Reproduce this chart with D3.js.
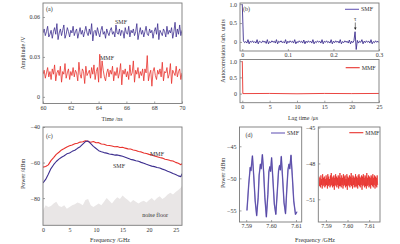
<!DOCTYPE html>
<html>
<head>
<meta charset="utf-8">
<script src="https://cdn.jsdelivr.net/npm/d3@7"></script>
<style>
  body { margin: 0; background: #fff; }
  svg { display: block; font-family: "Liberation Serif", "DejaVu Serif", serif; }
</style>
</head>
<body>
<div id="chart"></div>
<script>
// ---- (a) time series, amplitude in mV, sampled every 1/12 ns from 60 ns
const timeStart = 60, timeEnd = 70;
const smfAmpMv = [
  48,51,46,49,53,45,47,50,44,49,52,
  47,55,43,48,51,46,50,54,44,47,52,
  49,45,50,48,53,46,49,51,44,48,52,
  47,50,45,49,53,48,46,51,47,55,42,
  49,50,46,52,48,45,50,53,47,49,44,
  51,48,46,50,52,47,49,45,54,48,47,
  51,46,50,49,44,52,48,47,53,45,50,
  48,51,46,49,55,43,48,52,47,50,45,
  49,53,47,46,51,48,50,44,49,52,47,
  55,43,50,48,46,51,49,45,53,47,50,
  48,52,44,49,56,45,51,47,54,46,50
];
const mmfAmpMv = [
  17,20,14,18,22,15,19,13,21,17,24,
  12,18,20,16,23,11,19,17,25,14,18,
  21,13,19,16,22,15,20,18,12,26,17,
  14,21,19,10,23,16,18,20,14,22,17,
  24,13,19,22,11,32,14,27,20,15,12,
  18,21,15,20,17,23,12,19,16,22,14,
  18,25,9,20,17,21,15,19,13,24,16,
  18,27,11,20,17,22,14,19,16,21,12,
  21,18,31,12,17,20,8,19,22,16,13,
  20,17,21,15,26,12,19,18,22,14,17,
  25,10,20,18,16,23,15,19,21,13,18
];

// ---- (b) autocorrelation
const acfSmfLagStep = 0.0025; // us
const acfSmfValue = [
  1.0,
  0.03,-0.02,0.01,-0.03,0.06,-0.05,0.02,-0.01,0.03,-0.02,
  0.01,-0.03,0.06,-0.05,0.02,0.00,-0.02,0.03,-0.01,0.02,
  -0.04,0.06,-0.05,0.01,-0.02,0.03,-0.01,0.02,-0.03,0.06,
  -0.05,0.02,-0.01,0.03,-0.02,0.01,-0.03,0.06,-0.05,0.02,
  -0.02,0.03,-0.01,0.02,-0.03,0.06,-0.05,0.01,-0.02,0.03,
  -0.01,0.02,-0.03,0.05,-0.05,0.02,-0.02,0.03,-0.01,0.02,
  -0.03,0.06,-0.05,0.01,-0.02,0.03,-0.01,0.02,-0.03,0.06,
  -0.05,0.02,-0.01,0.03,-0.02,0.01,-0.03,0.06,-0.05,0.02,
  -0.02,0.03,-0.01,0.02,-0.03,0.06,-0.05,0.01,-0.02,0.03,
  -0.01,0.02,-0.03,0.05,-0.05,0.02,-0.02,0.03,0.27,-0.20,
  0.04,-0.03,0.02,-0.01,0.06,-0.05,0.02,-0.02,0.03,-0.01,
  0.02,-0.03,0.06,-0.05,0.01,-0.02,0.03,-0.01,0.02,-0.02
];
const tauLag = 0.248;
const acfMmfLag = [0, 0.1, 5, 10, 15, 20, 25];
const acfMmfValue = [1, 0, 0.005, -0.005, 0.005, 0, 0.005];

// ---- (c) power spectra
const specFreq = [0,0.5,1,1.5,2,2.5,3,3.5,4,4.5,5,5.5,6,6.5,7,7.5,8,8.5,9,9.5,10,10.5,11,11.5,12,12.5,
  13,13.5,14,14.5,15,15.5,16,16.5,17,17.5,18,18.5,19,19.5,20,20.5,21,21.5,22,22.5,23,23.5,24,24.5,25,25.5,26,26.2];
const specMmf = [-62.6,-62.2,-61.3,-58.9,-57.2,-55.4,-54.2,-52.9,-52.1,-51.2,-50.6,-50.1,-49.4,-49.1,-48.5,-48.3,
  -47.7,-48.1,-48.6,-48.2,-48.9,-48.8,-49.6,-49.7,-50.3,-50.4,-50.7,-51.1,-51.0,-51.5,-51.4,-51.9,-52.3,-52.4,
  -52.9,-53.2,-53.8,-54.0,-54.6,-54.9,-55.4,-55.7,-56.3,-56.7,-57.2,-57.5,-58.1,-58.4,-58.9,-59.1,-59.9,-60.4,-61.2,-60.6];
const specSmf = [-71.5,-69.5,-66.6,-63.4,-61.2,-59.4,-58.1,-57.0,-56.2,-55.1,-54.6,-53.7,-53.1,-52.0,-51.1,-49.6,
  -48.2,-47.9,-49.4,-50.9,-52.1,-53.3,-53.9,-54.4,-54.7,-55.2,-55.4,-55.8,-55.7,-56.1,-56.5,-57.0,-57.6,-58.2,
  -58.5,-59.0,-59.3,-59.9,-60.4,-61.0,-61.5,-62.0,-62.3,-62.8,-63.1,-63.7,-64.2,-64.9,-65.4,-66.2,-66.7,-67.5,-67.9,-66.3];
const specNoise = [-87,-84,-85,-84.5,-83,-82,-84.5,-85,-84,-86,-85,-84,-83.5,-82.5,-83,-84,-81,-80.5,-84,-85,
  -84,-83,-84,-82,-80,-81.5,-83,-81,-79.5,-80.5,-78.5,-80,-81,-82.5,-81,-82,-83,-82,-81.5,-82.5,
  -81,-80,-81.5,-80,-79,-80.5,-79.5,-78,-77,-78,-76.5,-75.5,-74,-73];

// ---- (d) zoomed spectra
const rippleSmfFreq = [7.5903,7.5910,7.5916,7.5919,7.5925,7.5930,7.5936,7.5942,7.5948,7.5952,7.5957,7.5960,
  7.5965,7.5970,7.5975,7.5981,7.5987,7.5991,7.5995,7.5998,7.6002,7.6007,7.6013,7.6019,7.6025,7.6030,7.6034,
  7.6037,7.6041,7.6046,7.6052,7.6058,7.6063,7.6068,7.6072,7.6075,7.6080,7.6085,7.6091,7.6098,7.6104];
const rippleSmfPower = [-55.0,-51.0,-48.3,-48.8,-46.5,-49.5,-53.5,-55.8,-53.0,-49.5,-47.8,-48.5,
  -46.3,-49.0,-53.0,-56.0,-52.5,-49.0,-48.2,-48.9,-46.8,-50.0,-54.0,-55.6,-52.0,-48.8,-48.0,
  -48.7,-46.6,-49.8,-53.8,-55.5,-51.8,-48.6,-47.8,-48.5,-46.4,-49.5,-53.5,-55.6,-55.2];
const rippleMmfStart = 7.5869, rippleMmfEnd = 7.6139;
const rippleMmfPower = [
  -49.1,-49.9,-49.2,-50.0,-49.0,-49.8,-49.3,-50.1,-48.9,-49.9,-49.2,-49.8,-49.1,-50.0,-49.3,-49.9,-49.0,
  -49.8,-49.2,-50.1,-48.9,-49.9,-49.1,-49.8,-49.3,-50.0,-49.0,-49.9,-48.8,-49.8,-49.2,-50.0,-49.1,-49.9,
  -49.0,-50.2,-49.2,-49.8,-48.9,-49.9,-49.1,-50.0,-49.2,-49.8,-49.0,-50.1,-49.1,-49.9,-48.8,-49.9,-49.2,
  -50.0,-49.0,-49.8,-49.2,-50.1,-48.9,-49.9,-49.1,-49.8,-49.0,-50.0,-49.3,-49.9,-48.9,-50.2,-49.1,-49.8,
  -49.2,-49.9,-49.0,-50.0,-49.1,-49.8,-48.8,-49.9,-49.2,-50.1,-49.0,-49.8,-49.1,-50.0,-49.2,-49.9,-48.9,
  -50.0,-49.1,-49.9,-49.2,-50.1,-49.0,-49.8,-48.9,-49.9,-49.1,-50.0,-49.2,-49.8,-49.0,-50.2,-49.1,-49.9,
  -48.9,-49.8,-49.2,-50.0,-49.0,-49.9,-49.1,-50.1,-48.8,-49.9,-49.2,-49.8,-49.0,-50.0,-49.1,-49.9,-49.2,
  -50.1,-49.0,-49.8,-49.1,-49.9,-48.9,-50.0,-49.2,-49.8,-49.0,-50.1,-49.1,-49.9,-49.2,-50.0,-49.0,-49.8
];

const BLUE = "#3d2f8f", BLUE_LIGHT = "#6a5cb8", RED = "#e8312c", FRAME = "#7a7a7a", TXT = "#333";
const FS = 6;

const svg = d3.select("#chart").append("svg").attr("width", 400).attr("height", 244);
const defs = svg.append("defs");
let clipId = 0;

const minus = v => String(v).replace("-", "\u2212");

function makePanel(box, xDomain, yDomain, xTicks, yTicks, xFmt, yFmt) {
  const x = d3.scaleLinear().domain(xDomain).range([box.left, box.right]);
  const y = d3.scaleLinear().domain(yDomain).range([box.bottom, box.top]);
  const id = "clip" + (clipId++);
  defs.append("clipPath").attr("id", id).append("rect")
    .attr("x", box.left).attr("y", box.top)
    .attr("width", box.right - box.left).attr("height", box.bottom - box.top);

  const xAxis = svg.append("g").attr("transform", `translate(0,${box.bottom})`)
    .call(d3.axisBottom(x).tickValues(xTicks).tickSizeInner(-2).tickSizeOuter(0).tickPadding(2).tickFormat(xFmt));
  const yAxis = svg.append("g").attr("transform", `translate(${box.left},0)`)
    .call(d3.axisLeft(y).tickValues(yTicks).tickSizeInner(-2).tickSizeOuter(0).tickPadding(3).tickFormat(yFmt));
  [xAxis, yAxis].forEach(a => {
    a.select(".domain").remove();
    a.attr("font-family", null).attr("font-size", FS);
    a.selectAll("line").attr("stroke", FRAME).attr("stroke-width", 0.7);
    a.selectAll("text").attr("fill", TXT);
  });

  const plot = svg.append("g").attr("clip-path", `url(#${id})`);
  const frame = () => svg.append("rect")
    .attr("x", box.left).attr("y", box.top)
    .attr("width", box.right - box.left).attr("height", box.bottom - box.top)
    .attr("fill", "none").attr("stroke", FRAME).attr("stroke-width", 0.9);
  return { x, y, plot, frame };
}

function addLine(p, xs, ys, color, width) {
  const line = d3.line().x((d, i) => p.x(xs[i])).y(d => p.y(d));
  p.plot.append("path").datum(ys)
    .attr("d", line).attr("fill", "none")
    .attr("stroke", color).attr("stroke-width", width).attr("stroke-linejoin", "round");
}

function label(x, y, text, opts = {}) {
  const t = svg.append("text").attr("x", x).attr("y", y)
    .attr("font-size", opts.size || FS).attr("fill", TXT)
    .attr("text-anchor", opts.anchor || "start").text(text);
  return t;
}

function yTitle(x, y, text) {
  svg.append("text").attr("transform", `translate(${x},${y}) rotate(-90)`)
    .attr("font-size", FS).attr("fill", TXT).attr("text-anchor", "middle").text(text);
}

function legend(x, y, color, text) {
  svg.append("line").attr("x1", x).attr("x2", x + 14).attr("y1", y).attr("y2", y)
    .attr("stroke", color).attr("stroke-width", 1.1);
  label(x + 16, y + 2, text);
}

// ---------- (a)
const pa = makePanel({ left: 43, right: 182, top: 3, bottom: 103.5 }, [60, 70], [-0.005, 0.0705],
  [60, 62, 64, 66, 68, 70], [0, 0.03, 0.06], d => d, d => d === 0 ? "0" : d.toFixed(2));
const timeA = smfAmpMv.map((d, i) => timeStart + i * (timeEnd - timeStart) / (smfAmpMv.length - 1));
addLine(pa, timeA, smfAmpMv.map(v => v / 1000), BLUE, 0.8);
addLine(pa, timeA, mmfAmpMv.map(v => v / 1000), RED, 0.8);
pa.frame();
label(46, 11, "(a)");
label(115, 24, "SMF");
label(100, 59.5, "MMF");
label(112, 120.5, "Time /ns", { anchor: "middle" });
yTitle(24.5, 53, "Amplitude /V");

// ---------- (b) top
const pb1 = makePanel({ left: 240, right: 379, top: 3, bottom: 51 }, [-0.005, 0.3], [-0.24, 1.03],
  [0, 0.1, 0.2, 0.3], [0, 0.5, 1], d => d, d => d === 0 ? "0" : d.toFixed(1));
addLine(pb1, acfSmfValue.map((d, i) => i * acfSmfLagStep), acfSmfValue, BLUE, 0.9);
pb1.frame();
label(243, 10.5, "(b)");
legend(345, 9.3, BLUE_LIGHT, "SMF");
const tx = pb1.x(tauLag);
label(tx, 21, "\u03c4", { anchor: "middle" });
svg.append("line").attr("x1", tx).attr("x2", tx).attr("y1", 22.5).attr("y2", 28)
  .attr("stroke", "#222").attr("stroke-width", 0.6);
svg.append("path").attr("d", `M${tx - 1.3},27.5L${tx + 1.3},27.5L${tx},30Z`).attr("fill", "#222");

// ---------- (b) bottom
const pb2 = makePanel({ left: 240, right: 379, top: 59.5, bottom: 102.7 }, [-0.42, 25], [-0.28, 1.05],
  [0, 5, 10, 15, 20, 25], [0, 0.5, 1], d => d, d => d === 0 ? "0" : d.toFixed(1));
addLine(pb2, acfMmfLag, acfMmfValue, RED, 0.9);
pb2.frame();
legend(345.7, 67.7, RED, "MMF");
label(303, 119.5, "Lag time /\u03bcs", { anchor: "middle" });
yTitle(225, 51, "Autocorrelation /arb. units");

// ---------- (c)
const pc = makePanel({ left: 43, right: 182, top: 127, bottom: 225.3 }, [0, 26.2], [-95.3, -40],
  [0, 5, 10, 15, 20, 25], [-80, -60, -40], d => d, minus);
pc.plot.append("path").datum(specNoise)
  .attr("d", d3.area().x((d, i) => pc.x(specFreq[i])).y0(pc.y(-95.3)).y1(d => pc.y(d)))
  .attr("fill", "#e9e6e6");
addLine(pc, specFreq, specMmf, RED, 1.1);
addLine(pc, specFreq, specSmf, BLUE, 1.1);
pc.frame();
label(46, 138, "(c)");
label(150, 155.5, "MMF");
label(113, 167.5, "SMF");
label(168, 216.5, "noise floor", { anchor: "end" });
label(110, 241.5, "Frequency /GHz", { anchor: "middle" });
yTitle(24.5, 174, "Power /dBm");

// ---------- (d) left
const pd1 = makePanel({ left: 239.5, right: 301.7, top: 127, bottom: 222 }, [7.5873, 7.6123], [-56.8, -42],
  [7.59, 7.60, 7.61], [-55, -50, -45], d => d.toFixed(2), minus);
addLine(pd1, rippleSmfFreq, rippleSmfPower, "#8a7fc8", 1.4);
addLine(pd1, rippleSmfFreq, rippleSmfPower, "#4a3c9c", 0.7);
pd1.frame();
label(245.5, 137, "(d)");
legend(271, 133, BLUE_LIGHT, "SMF");
yTitle(224.5, 173, "Power /dBm");

// ---------- (d) right
const pd2 = makePanel({ left: 318.3, right: 380, top: 127, bottom: 222 }, [7.5865, 7.615], [-52.9, -44.95],
  [7.59, 7.60, 7.61], [-51, -48, -45], d => d.toFixed(2), minus);
const rippleMmfFreq = rippleMmfPower.map((d, i) =>
  rippleMmfStart + i * (rippleMmfEnd - rippleMmfStart) / (rippleMmfPower.length - 1));
addLine(pd2, rippleMmfFreq, rippleMmfPower, RED, 0.8);
pd2.frame();
legend(349.3, 132.7, RED, "MMF");
label(315, 241.5, "Frequency /GHz", { anchor: "middle" });
</script>
</body>
</html>
